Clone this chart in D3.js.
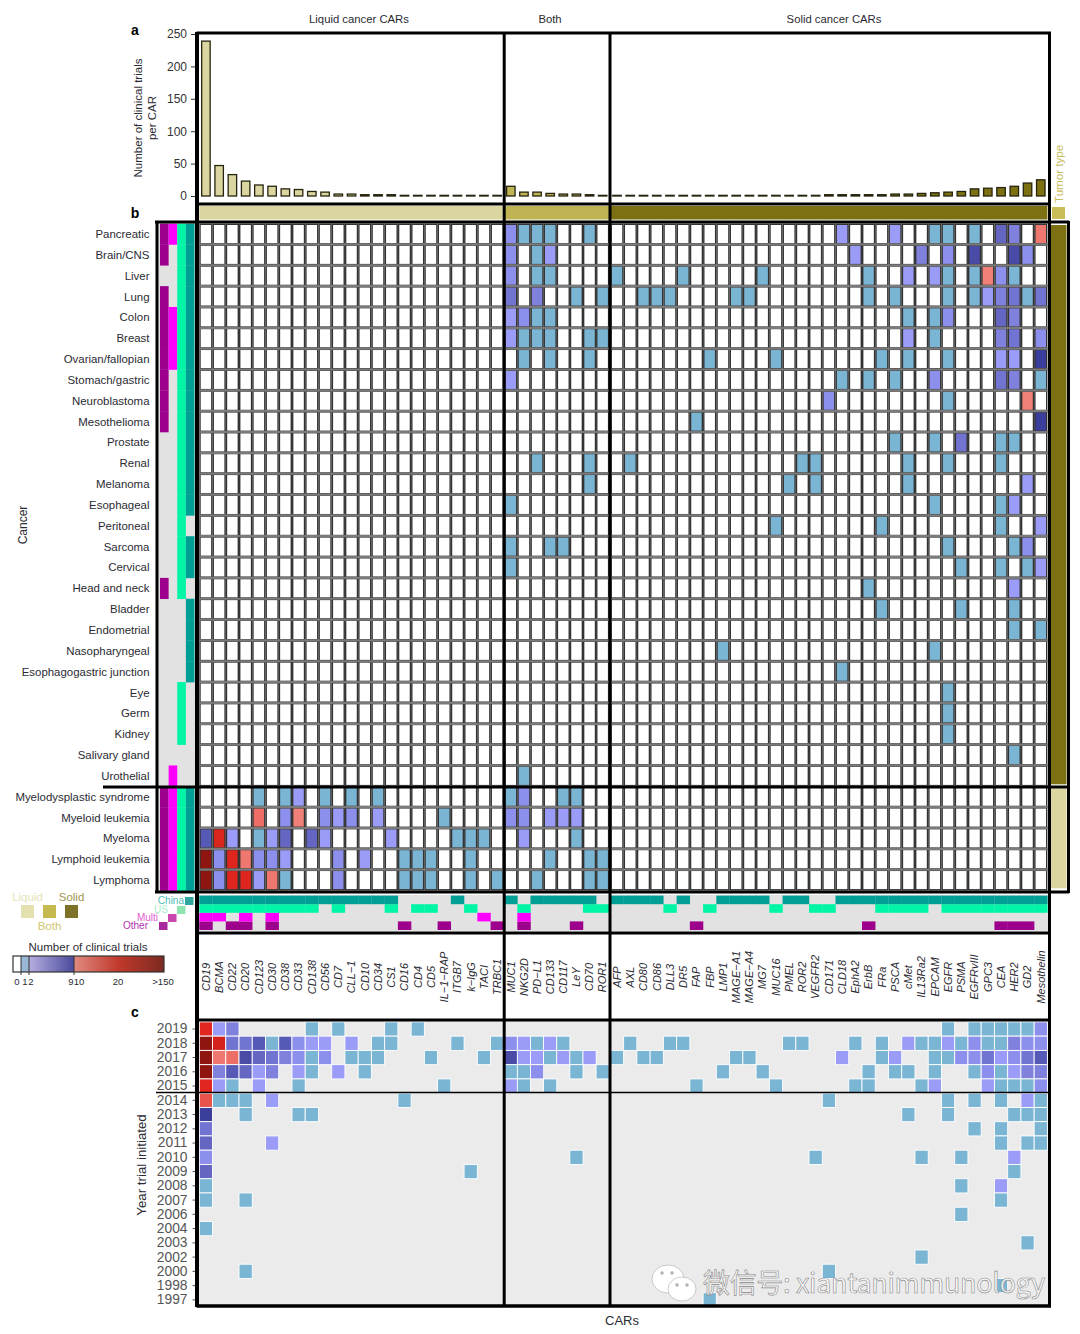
<!DOCTYPE html>
<html>
<head>
<meta charset="utf-8">
<script src="https://cdn.jsdelivr.net/npm/d3@7"></script>
<style>
  body { margin: 0; background: #fff; }
  text { font-family: "Liberation Sans", Arial, sans-serif; fill: #2b2b33; }
</style>
</head>
<body>
<svg id="chart"></svg>
<script>
// ---- data ----
const liquidCars = ['CD19', 'BCMA', 'CD22', 'CD20', 'CD123', 'CD30', 'CD38', 'CD33', 'CD138', 'CD56', 'CD7', 'CLL−1', 'CD10', 'CD34', 'CS1', 'CD16', 'CD4', 'CD5', 'IL−1−RAP', 'ITGB7', 'k−IgG', 'TACI', 'TRBC1'];
const bothCars = ['MUC1', 'NKG2D', 'PD−L1', 'CD133', 'CD117', 'LeY', 'CD70', 'ROR1'];
const solidCars = ['AFP', 'AXL', 'CD80', 'CD86', 'DLL3', 'DR5', 'FAP', 'FBP', 'LMP1', 'MAGE−A1', 'MAGE−A4', 'MG7', 'MUC16', 'PMEL', 'ROR2', 'VEGFR2', 'CD171', 'CLD18', 'EphA2', 'ErbB', 'FRa', 'PSCA', 'cMet', 'IL13Ra2', 'EPCAM', 'EGFR', 'PSMA', 'EGFRvIII', 'GPC3', 'CEA', 'HER2', 'GD2', 'Mesothelin'];

const liquidTrials = [239, 47, 33, 23, 17, 15, 11, 10, 7, 6, 3, 3, 2, 2, 2, 1, 1, 1, 1, 1, 1, 1, 1];
const bothTrials = [15, 6, 6, 4, 3, 3, 2, 1];
const solidTrials = [1, 1, 1, 1, 1, 1, 1, 1, 1, 1, 1, 1, 1, 1, 1, 1, 2, 2, 2, 2, 2, 3, 3, 4, 5, 6, 7, 11, 12, 13, 15, 20, 25];

const cancers = ['Pancreatic', 'Brain/CNS', 'Liver', 'Lung', 'Colon', 'Breast', 'Ovarian/fallopian', 'Stomach/gastric', 'Neuroblastoma', 'Mesothelioma', 'Prostate', 'Renal', 'Melanoma', 'Esophageal', 'Peritoneal', 'Sarcoma', 'Cervical', 'Head and neck', 'Bladder', 'Endometrial', 'Nasopharyngeal', 'Esophagogastric junction', 'Eye', 'Germ', 'Kidney', 'Salivary gland', 'Urothelial', 'Myelodysplastic syndrome', 'Myeloid leukemia', 'Myeloma', 'Lymphoid leukemia', 'Lymphoma'];
const liquidCancers = ['Myelodysplastic syndrome', 'Myeloid leukemia', 'Myeloma', 'Lymphoid leukemia', 'Lymphoma'];

const years = ['2019', '2018', '2017', '2016', '2015', '2014', '2013', '2012', '2011', '2010', '2009', '2008', '2007', '2006', '2004', '2003', '2002', '2000', '1998', '1997'];

// number of trials for each cancer / CAR pair
const trialsByCancer = {
  'Pancreatic': {MUC1: 3, NKG2D: 1, 'PD−L1': 1, CD133: 1, CD70: 1, CLD18: 2, PSCA: 2, EPCAM: 1, EGFR: 1, EGFRvIII: 1, CEA: 6, HER2: 4, Mesothelin: 11},
  'Brain/CNS': {MUC1: 3, 'PD−L1': 1, CD133: 2, EphA2: 2, IL13Ra2: 4, EGFR: 3, EGFRvIII: 8, HER2: 8, GD2: 3},
  'Liver': {MUC1: 3, 'PD−L1': 1, CD133: 1, AFP: 1, DR5: 1, MG7: 1, ErbB: 1, cMet: 2, EPCAM: 2, EGFR: 1, EGFRvIII: 1, GPC3: 10, CEA: 3, HER2: 1},
  'Lung': {MUC1: 5, 'PD−L1': 4, LeY: 1, ROR1: 1, CD80: 1, CD86: 1, DLL3: 1, 'MAGE−A1': 1, 'MAGE−A4': 1, ErbB: 1, PSCA: 1, EGFR: 1, EGFRvIII: 1, GPC3: 2, CEA: 4, HER2: 5, GD2: 1, Mesothelin: 5},
  'Colon': {MUC1: 2, NKG2D: 3, 'PD−L1': 1, CD133: 1, cMet: 1, EPCAM: 1, EGFR: 3, CEA: 6, HER2: 4},
  'Breast': {MUC1: 2, NKG2D: 1, 'PD−L1': 1, CD133: 1, CD70: 1, ROR1: 1, cMet: 2, EPCAM: 1, CEA: 4, HER2: 5, Mesothelin: 3},
  'Ovarian/fallopian': {NKG2D: 1, CD133: 1, CD70: 1, FBP: 1, MUC16: 1, FRa: 1, cMet: 1, EGFR: 1, CEA: 2, HER2: 2, Mesothelin: 9},
  'Stomach/gastric': {MUC1: 2, CLD18: 1, ErbB: 1, PSCA: 1, EPCAM: 3, CEA: 5, HER2: 4, Mesothelin: 1},
  'Neuroblastoma': {CD171: 3, EGFR: 1, GD2: 10},
  'Mesothelioma': {FAP: 1, Mesothelin: 9},
  'Prostate': {PSCA: 1, EPCAM: 1, PSMA: 5, CEA: 1, HER2: 1},
  'Renal': {'PD−L1': 1, CD70: 1, AXL: 1, ROR2: 1, VEGFR2: 1, cMet: 1, EGFR: 1, CEA: 1},
  'Melanoma': {CD70: 1, PMEL: 1, VEGFR2: 1, cMet: 1, GD2: 2},
  'Esophageal': {MUC1: 1, EPCAM: 1, CEA: 1, HER2: 2},
  'Peritoneal': {MUC16: 1, FRa: 1, CEA: 1, Mesothelin: 2},
  'Sarcoma': {MUC1: 1, CD133: 1, CD117: 1, EGFR: 1, HER2: 1, GD2: 3},
  'Cervical': {MUC1: 1, PSMA: 1, CEA: 1, GD2: 1, Mesothelin: 2},
  'Head and neck': {ErbB: 1, HER2: 2},
  'Bladder': {FRa: 1, PSMA: 1, HER2: 1},
  'Endometrial': {HER2: 1, Mesothelin: 1},
  'Nasopharyngeal': {LMP1: 1, EPCAM: 1},
  'Esophagogastric junction': {CLD18: 1},
  'Eye': {EGFR: 1},
  'Germ': {EGFR: 1},
  'Kidney': {EGFR: 1},
  'Salivary gland': {HER2: 1},
  'Urothelial': {NKG2D: 1},
  'Myelodysplastic syndrome': {CD123: 1, CD38: 1, CD33: 2, CD56: 1, 'CLL−1': 1, CD34: 1, MUC1: 1, NKG2D: 3, CD117: 1, LeY: 1},
  'Myeloid leukemia': {CD123: 12, CD38: 3, CD33: 10, CD56: 3, CD7: 2, 'CLL−1': 3, CD34: 2, 'IL−1−RAP': 1, MUC1: 3, NKG2D: 3, CD133: 2, CD117: 2, LeY: 2},
  'Myeloma': {CD19: 7, BCMA: 30, CD22: 2, CD123: 1, CD30: 2, CD38: 6, CD138: 6, CD56: 2, CS1: 2, ITGB7: 1, 'k−IgG': 1, TACI: 1, NKG2D: 2, LeY: 1},
  'Lymphoid leukemia': {CD19: 150, BCMA: 3, CD22: 22, CD20: 11, CD123: 3, CD30: 3, CD38: 2, CD7: 3, CD10: 2, CD16: 1, CD4: 1, CD5: 1, 'k−IgG': 1, CD133: 1, CD70: 1, ROR1: 1},
  'Lymphoma': {CD19: 150, BCMA: 3, CD22: 22, CD20: 22, CD123: 2, CD30: 11, CD38: 1, CD7: 3, CD16: 1, CD4: 1, CD5: 1, 'k−IgG': 1, TRBC1: 1, 'PD−L1': 1, CD70: 1, ROR1: 1}
};

// number of trials started per year and CAR
const trialsByYear = {
  '2019': {CD19: 20, BCMA: 2, CD22: 4, CD138: 1, CD7: 1, CS1: 1, CD4: 1, EGFR: 1, EGFRvIII: 1, GPC3: 1, CEA: 1, HER2: 1, GD2: 1, Mesothelin: 3},
  '2018': {CD19: 150, BCMA: 40, CD22: 5, CD20: 5, CD123: 7, CD30: 1, CD38: 7, CD33: 3, CD138: 2, CD56: 2, 'CLL−1': 2, CD34: 1, CS1: 1, ITGB7: 1, TRBC1: 1, MUC1: 3, NKG2D: 2, 'PD−L1': 1, CD133: 2, CD117: 1, AXL: 1, DLL3: 1, DR5: 1, PMEL: 1, ROR2: 1, EphA2: 1, FRa: 1, cMet: 2, IL13Ra2: 1, EPCAM: 1, EGFR: 2, PSMA: 1, EGFRvIII: 3, GPC3: 1, CEA: 1, HER2: 4, GD2: 3, Mesothelin: 3},
  '2017': {CD19: 150, BCMA: 11, CD22: 12, CD20: 8, CD123: 6, CD30: 5, CD38: 4, CD33: 3, CD138: 1, CD56: 3, 'CLL−1': 1, CD10: 1, CD34: 1, CD5: 1, TACI: 1, MUC1: 8, NKG2D: 2, 'PD−L1': 2, CD133: 1, CD117: 2, LeY: 1, CD70: 2, AFP: 1, CD80: 1, CD86: 1, 'MAGE−A1': 1, 'MAGE−A4': 1, CLD18: 2, FRa: 1, PSCA: 2, EPCAM: 1, EGFR: 1, PSMA: 3, EGFRvIII: 3, GPC3: 5, CEA: 2, HER2: 3, GD2: 5, Mesothelin: 7},
  '2016': {CD19: 150, BCMA: 4, CD22: 7, CD20: 6, CD123: 2, CD30: 4, CD33: 2, CD138: 1, CD7: 2, CD10: 1, MUC1: 1, NKG2D: 1, 'PD−L1': 3, LeY: 1, ROR1: 1, LMP1: 1, MG7: 1, ErbB: 1, PSCA: 1, cMet: 1, EPCAM: 1, EGFRvIII: 1, GPC3: 3, CEA: 1, HER2: 2, GD2: 4, Mesothelin: 4},
  '2015': {CD19: 20, BCMA: 2, CD22: 1, CD123: 2, CD33: 1, 'IL−1−RAP': 1, MUC1: 2, NKG2D: 1, CD133: 1, FAP: 1, MUC16: 1, EphA2: 1, ErbB: 1, IL13Ra2: 1, EPCAM: 2, GPC3: 2, CEA: 1, HER2: 1, GD2: 1, Mesothelin: 3},
  '2014': {CD19: 15, BCMA: 1, CD22: 1, CD20: 1, CD30: 2, CD16: 1, CD171: 1, EGFR: 1, EGFRvIII: 1, CEA: 1, GD2: 2, Mesothelin: 1},
  '2013': {CD19: 9, CD20: 1, CD33: 1, CD138: 1, cMet: 1, EGFR: 1, HER2: 1, GD2: 1, Mesothelin: 1},
  '2012': {CD19: 5, EGFRvIII: 1, CEA: 1, Mesothelin: 1},
  '2011': {CD19: 6, CD30: 2, CEA: 1, GD2: 1, Mesothelin: 1},
  '2010': {CD19: 3, LeY: 1, VEGFR2: 1, IL13Ra2: 1, PSMA: 1, HER2: 2},
  '2009': {CD19: 6, 'k−IgG': 1, HER2: 1},
  '2008': {CD19: 1, PSMA: 1, CEA: 2},
  '2007': {CD19: 1, CD20: 1, CEA: 1},
  '2006': {PSMA: 1},
  '2004': {CD19: 1},
  '2003': {GD2: 1},
  '2002': {IL13Ra2: 1},
  '2000': {CD20: 1, CD171: 1},
  '1998': {CEA: 1},
  '1997': {FBP: 1}
};

// countries
const countries = ['Other', 'Multi', 'US', 'China'];
const otherCancers = ['Pancreatic', 'Brain/CNS', 'Lung', 'Colon', 'Breast', 'Ovarian/fallopian', 'Stomach/gastric', 'Neuroblastoma', 'Mesothelioma', 'Head and neck', ...liquidCancers];
const multiCancers = ['Pancreatic', 'Colon', 'Breast', 'Ovarian/fallopian', 'Urothelial', ...liquidCancers];
const usCancers = [...cancers.slice(0, 18), 'Eye', 'Germ', 'Kidney', ...liquidCancers];
const chinaCancers = [...cancers.slice(0, 14), 'Sarcoma', 'Cervical', 'Bladder', 'Endometrial', 'Nasopharyngeal', 'Esophagogastric junction', ...liquidCancers];

const chinaCars = [...liquidCars.slice(0, 15), 'ITGB7', 'MUC1', 'PD−L1', 'CD133', 'CD117', 'LeY', 'CD70', 'AFP', 'AXL', 'CD80', 'CD86', 'DR5', 'LMP1', 'MAGE−A1', 'MAGE−A4', 'MG7', 'PMEL', 'ROR2', ...solidCars.slice(17)];
const usCars = [...liquidCars.slice(0, 9), 'CD7', 'CS1', 'CD4', 'CD5', 'k−IgG', 'NKG2D', 'CD70', 'ROR1', 'DLL3', 'FBP', 'MUC16', 'VEGFR2', 'CD171', 'FRa', 'PSCA', 'cMet', 'IL13Ra2', ...solidCars.slice(25)];
const multiCars = ['CD19', 'BCMA', 'CD20', 'CD30', 'TACI', 'NKG2D'];
const otherCars = ['CD19', 'CD22', 'CD20', 'CD30', 'CD16', 'IL−1−RAP', 'TRBC1', 'NKG2D', 'LeY', 'FAP', 'ErbB', 'CEA', 'HER2', 'GD2'];

const colorTicks = ['0', '1', '2', '9', '10', '20', '>150'];

// ---- colours ----
const groupColor = {liquid: '#dbd69f', both: '#bfb353', solid: '#7c7012'};
const countryColor = {Other: '#9c008c', Multi: '#ff00ff', US: '#00f5a6', China: '#009f96'};
const trialColor = d3.scaleLinear()
  .domain([1, 2, 9, 10, 20, 150])
  .range(['#7ab5d4', '#9a9cf8', '#3b3e9a', '#f08078', '#e0261e', '#8e1510'])
  .clamp(true);

const svg = d3.select('#chart').attr('width', 1080).attr('height', 1334);

// ---- scales ----
const xLiquid = d3.scaleBand().domain(liquidCars).range([199.3, 503.8]);
const xBoth = d3.scaleBand().domain(bothCars).range([504.2, 609.2]);
const xSolid = d3.scaleBand().domain(solidCars).range([610.4, 1047.4]);
const groups = [
  {key: 'liquid', cars: liquidCars, trials: liquidTrials, scale: xLiquid},
  {key: 'both', cars: bothCars, trials: bothTrials, scale: xBoth},
  {key: 'solid', cars: solidCars, trials: solidTrials, scale: xSolid}
];
const allCars = groups.flatMap((g) => g.cars.map((car, i) => ({car, group: g.key, trials: g.trials[i], scale: g.scale})));
const xOf = (car) => allCars.find((d) => d.car === car).scale(car);
const bandW = xLiquid.bandwidth();

const yBars = d3.scaleLinear().domain([0, 250]).range([196, 34]);
const yCancer = d3.scaleBand().domain(cancers).range([223.6, 890.5]);
const yYear = d3.scaleBand().domain(years).range([1021.9, 1307]);
const yCountry = d3.scaleBand().domain(['China', 'US', 'Multi', 'Other']).range([895.6, 930]);
const xCountry = d3.scaleBand().domain(countries).range([160, 194.5]);

// ---- a: bars ----
svg.append('g').attr('transform', 'translate(196,0)')
  .call(d3.axisLeft(yBars).tickValues([0, 50, 100, 150, 200, 250]).tickSize(5).tickPadding(4))
  .call((g) => g.select('.domain').remove())
  .call((g) => g.selectAll('text').style('font-size', '12px').style('font-family', '"Liberation Sans"').style('fill', '#333'))
  .call((g) => g.selectAll('line').attr('stroke', '#333'));

svg.append('g').selectAll('rect').data(allCars).join('rect')
  .attr('x', (d) => d.scale(d.car) + bandW * 0.18)
  .attr('width', bandW * 0.64)
  .attr('y', (d) => yBars(d.trials))
  .attr('height', (d) => yBars(0) - yBars(d.trials))
  .attr('fill', (d) => groupColor[d.group])
  .attr('stroke', '#26240f')
  .attr('stroke-width', 1.3);

// type strip under the bars
svg.append('g').selectAll('rect').data(groups).join('rect')
  .attr('x', (d) => d.scale.range()[0])
  .attr('width', (d) => d.scale.range()[1] - d.scale.range()[0])
  .attr('y', 206).attr('height', 13.5)
  .attr('fill', (d) => groupColor[d.key]);

// ---- b: cancer matrix ----
const matrixCells = cancers.flatMap((cancer) => allCars.map((c) => ({
  cancer, car: c.car, value: trialsByCancer[cancer][c.car] || 0
})));

svg.append('g').selectAll('rect').data(matrixCells).join('rect')
  .attr('x', (d) => xOf(d.car) + 0.7)
  .attr('y', (d) => yCancer(d.cancer) + 0.7)
  .attr('width', bandW - 1.4)
  .attr('height', yCancer.bandwidth() - 1.4)
  .attr('fill', (d) => d.value ? trialColor(d.value) : '#fff')
  .attr('stroke', '#333')
  .attr('stroke-width', 1.4);

// grey rules between the rows
svg.append('g').selectAll('line').data(cancers.slice(1)).join('line')
  .attr('x1', 199).attr('x2', 1048)
  .attr('y1', (d) => yCancer(d)).attr('y2', (d) => yCancer(d))
  .attr('stroke', '#7a7a7a')
  .attr('stroke-width', 2.2);

svg.append('g').selectAll('text').data(cancers).join('text')
  .attr('x', 149.5)
  .attr('y', (d) => yCancer(d) + yCancer.bandwidth() / 2 + 4)
  .attr('text-anchor', 'end')
  .attr('font-size', 11.45)
  .text((d) => d);

// country strip beside the cancers
const cancerCountries = {Other: otherCancers, Multi: multiCancers, US: usCancers, China: chinaCancers};
svg.append('rect').attr('x', 158).attr('y', 223).attr('width', 38).attr('height', 668).attr('fill', '#e2e2e2');
countries.forEach((c) => {
  svg.append('g').selectAll('rect').data(cancerCountries[c]).join('rect')
    .attr('x', xCountry(c))
    .attr('width', xCountry.bandwidth())
    .attr('y', (d) => yCancer(d))
    .attr('height', yCancer.bandwidth() + 0.3)
    .attr('fill', countryColor[c]);
});

// tumour type strip on the right
svg.append('rect').attr('x', 1051).attr('y', 225).attr('width', 15.5).attr('height', yCancer(liquidCancers[0]) - 227).attr('fill', groupColor.solid);
svg.append('rect').attr('x', 1051).attr('y', yCancer(liquidCancers[0]) + 2).attr('width', 15.5).attr('height', 100).attr('fill', groupColor.liquid);
svg.append('rect').attr('x', 1052).attr('y', 207).attr('width', 13).attr('height', 12).attr('fill', '#c9bd5a');
svg.append('text').attr('transform', 'translate(1063,203) rotate(-90)').attr('font-size', 11.6).style('fill', '#c8bd5e').text('Tumor type');

// country strip under the matrix
const carCountries = {China: chinaCars, US: usCars, Multi: multiCars, Other: otherCars};
svg.append('rect').attr('x', 198).attr('y', 895).attr('width', 850).attr('height', 36).attr('fill', '#e2e2e2');
countries.forEach((c) => {
  svg.append('g').selectAll('rect').data(carCountries[c]).join('rect')
    .attr('x', (d) => xOf(d))
    .attr('width', bandW + 0.2)
    .attr('y', yCountry(c))
    .attr('height', yCountry.bandwidth())
    .attr('fill', countryColor[c]);
});

// CAR names
svg.append('g').selectAll('text').data(allCars).join('text')
  .attr('transform', (d) => `translate(${d.scale(d.car) + bandW / 2 + 3.8},977) rotate(-90)`)
  .attr('text-anchor', 'middle')
  .attr('font-size', 11)
  .attr('font-style', 'italic')
  .text((d) => d.car);

// ---- c: years ----
svg.append('rect').attr('x', 198).attr('y', 1021).attr('width', 850).attr('height', 285).attr('fill', '#ebebeb');

const yearCells = years.flatMap((year) => Object.entries(trialsByYear[year])
  .map(([car, value]) => ({year, car, value})));

svg.append('g').selectAll('rect').data(yearCells).join('rect')
  .attr('x', (d) => xOf(d.car))
  .attr('y', (d) => yYear(d.year))
  .attr('width', bandW)
  .attr('height', yYear.bandwidth())
  .attr('fill', (d) => trialColor(d.value))
  .attr('stroke', '#fff')
  .attr('stroke-width', 0.9);

svg.append('g').attr('transform', 'translate(196,0)')
  .call(d3.axisLeft(yYear).tickSize(3.5).tickPadding(5))
  .call((g) => g.select('.domain').remove())
  .call((g) => g.selectAll('text').style('font-size', '13.8px').style('font-family', '"Liberation Sans"').style('fill', '#555'))
  .call((g) => g.selectAll('line').attr('stroke', '#555'));

// ---- frames ----
function frameLine(x1, y1, x2, y2, w) {
  svg.append('line').attr('x1', x1).attr('y1', y1).attr('x2', x2).attr('y2', y2)
    .attr('stroke', '#000').attr('stroke-width', w);
}
frameLine(196.5, 33, 1051, 33, 3);
frameLine(196.5, 204, 1051, 204, 3);
frameLine(155, 222, 1069, 222, 3);
frameLine(103, 787, 1069, 787, 3);
frameLine(155, 892, 1069, 892, 3);
frameLine(196.5, 933, 1051, 933, 3);
frameLine(196.5, 1020, 1051, 1020, 3);
frameLine(156, 1092.5, 1049, 1092.5, 1.5);
frameLine(196.5, 1306, 1051, 1306, 3.5);
frameLine(197, 32, 197, 1307, 4);
frameLine(504.2, 32, 504.2, 1307, 3);
frameLine(610, 32, 610, 1307, 3);
frameLine(1049.5, 32, 1049.5, 1307, 3);
frameLine(157, 221, 157, 893, 3);
frameLine(1068.5, 221, 1068.5, 893, 3);

// ---- titles ----
function label(x, y, txt, size, opts = {}) {
  return svg.append('text')
    .attr('transform', opts.rotate ? `translate(${x},${y}) rotate(-90)` : `translate(${x},${y})`)
    .attr('text-anchor', opts.anchor || 'middle')
    .attr('font-size', size)
    .attr('font-weight', opts.bold ? 'bold' : 'normal')
    .style('fill', opts.color || null)
    .text(txt);
}
label(359, 23, 'Liquid cancer CARs', 11.3);
label(550, 23, 'Both', 11.3);
label(834, 23, 'Solid cancer CARs', 11.3);
label(135, 35, 'a', 14, {bold: true, color: '#000'});
label(135, 218, 'b', 14, {bold: true, color: '#000'});
label(135, 1017, 'c', 14, {bold: true, color: '#000'});
label(142, 118, 'Number of clinical trials', 11.5, {rotate: true});
label(156, 118, 'per CAR', 11.5, {rotate: true});
label(27, 525, 'Cancer', 12, {rotate: true});
label(146, 1165, 'Year trial initiated', 13.3, {rotate: true});
label(622, 1325, 'CARs', 13);

// ---- legends ----
const typeLegend = [
  {name: 'Liquid', x: 21, fill: '#e5e0b0', text: '#e8e2b8', ty: 901},
  {name: 'Both', x: 43, fill: '#c4ba50', text: '#d0c670', ty: 930},
  {name: 'Solid', x: 65, fill: '#7e7226', text: '#a09550', ty: 901}
];
typeLegend.forEach((d) => {
  svg.append('rect').attr('x', d.x).attr('y', 905).attr('width', 13).attr('height', 13).attr('fill', d.fill);
  label(d.x + 6.5, d.ty, d.name, 11.5, {color: d.text});
});

const countryLegend = [
  {name: 'China', x: 185, y: 897, tx: 184, fill: '#30a8a0', text: '#4dbdb5'},
  {name: 'US', x: 177, y: 906, tx: 168, fill: '#8fe5b0', text: '#a8f0c8'},
  {name: 'Multi', x: 168, y: 914, tx: 158, fill: '#c848b0', text: '#e060d0'},
  {name: 'Other', x: 159, y: 922, tx: 148, fill: '#a828a0', text: '#b030b0'}
];
countryLegend.forEach((d) => {
  svg.append('rect').attr('x', d.x).attr('y', d.y).attr('width', 8.5).attr('height', 8).attr('fill', d.fill);
  label(d.tx, d.y + 7, d.name, 10, {anchor: 'end', color: d.text});
});

// colour bar
const defs = svg.append('defs');
function gradient(id, stops) {
  const g = defs.append('linearGradient').attr('id', id);
  stops.forEach(([o, c]) => g.append('stop').attr('offset', o).attr('stop-color', c));
}
gradient('lav', [[0, '#b5aee0'], [1, '#4a4a9c']]);
gradient('red', [[0, '#e08a80'], [0.5, '#c0392b'], [1, '#7c2a22']]);

const barScale = d3.scaleOrdinal().domain(colorTicks).range([17, 25, 31, 71, 79, 118, 163]);
svg.append('rect').attr('x', 13).attr('y', 956).attr('width', 8).attr('height', 16).attr('fill', '#fff');
svg.append('rect').attr('x', 21).attr('y', 956).attr('width', 8).attr('height', 16).attr('fill', '#9ab8d5');
svg.append('rect').attr('x', 29).attr('y', 956).attr('width', 45).attr('height', 16).attr('fill', 'url(#lav)');
svg.append('rect').attr('x', 74).attr('y', 956).attr('width', 90).attr('height', 16).attr('fill', 'url(#red)');
svg.append('rect').attr('x', 13).attr('y', 956).attr('width', 151).attr('height', 16).attr('fill', 'none').attr('stroke', '#333').attr('stroke-width', 1.2);
[21, 29, 74].forEach((x) => svg.append('line').attr('x1', x).attr('x2', x).attr('y1', 956).attr('y2', 975).attr('stroke', '#333').attr('stroke-width', 1));
svg.append('g').selectAll('text').data(colorTicks).join('text')
  .attr('x', (d) => barScale(d)).attr('y', 985)
  .attr('text-anchor', 'middle').attr('font-size', 9.5)
  .text((d) => d);
label(88, 951, 'Number of clinical trials', 11.5);

// ---- watermark ----
const mark = svg.append('g').attr('fill', '#fff').attr('stroke', '#aaa').attr('stroke-width', 0.6);
mark.append('ellipse').attr('cx', 668).attr('cy', 1279).attr('rx', 16).attr('ry', 14);
mark.append('ellipse').attr('cx', 682).attr('cy', 1289).attr('rx', 14).attr('ry', 12);
[[662, 1273], [672, 1273], [677, 1285], [687, 1285]].forEach(([cx, cy]) => {
  mark.append('circle').attr('cx', cx).attr('cy', cy).attr('r', 1.4).attr('fill', '#bbb');
});
svg.append('text')
  .attr('x', 703).attr('y', 1293)
  .attr('font-size', 27)
  .style('font-family', '"Noto Sans CJK SC", "Liberation Sans", sans-serif')
  .style('fill', 'rgba(255,255,255,0.85)')
  .attr('stroke', '#888').attr('stroke-width', 0.6)
  .attr('textLength', 342)
  .text('微信号: xiantanimmunology');
</script>
</body>
</html>
